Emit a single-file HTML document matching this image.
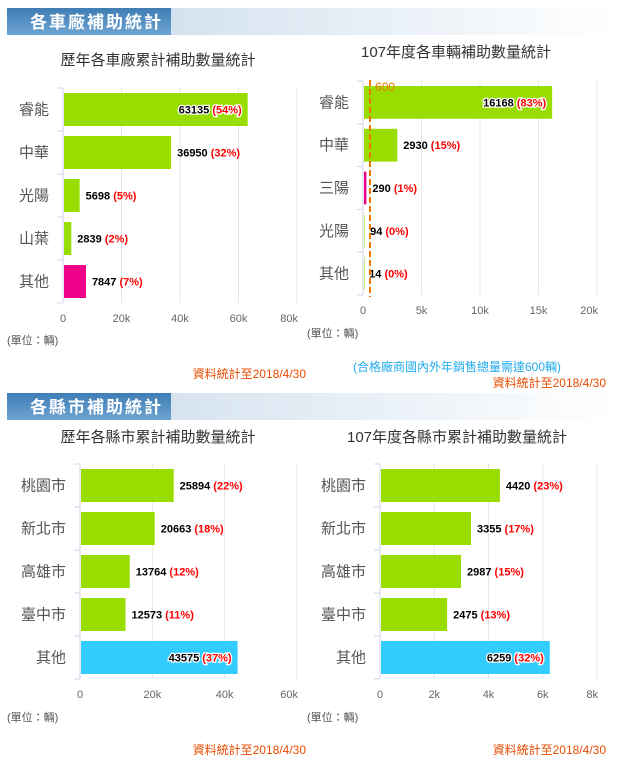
<!DOCTYPE html>
<html><head><meta charset="utf-8">
<style>
body{margin:0;background:#fff;width:618px;height:758px;overflow:hidden;font-family:"Liberation Sans","Noto Sans CJK TC",sans-serif}
svg text{font-family:"Liberation Sans","Noto Sans CJK TC",sans-serif}
</style></head>
<body>
<svg width="618" height="758" viewBox="0 0 618 758">
<defs>
<linearGradient id="hdr" x1="0" y1="0" x2="0" y2="1"><stop offset="0" stop-color="#3f7db5"/><stop offset="1" stop-color="#6da4d2"/></linearGradient>
<linearGradient id="hdrl" x1="0" y1="0" x2="1" y2="0"><stop offset="0" stop-color="#d4e2ef"/><stop offset="1" stop-color="#ffffff"/></linearGradient>
</defs>
<g>
<rect x="171" y="8" width="447" height="27" fill="url(#hdrl)"/>
<rect x="7" y="8" width="164" height="27" fill="url(#hdr)"/>
<text x="30" y="28" font-size="17" fill="#fff" letter-spacing="2" font-weight="bold">各車廠補助統計</text>
</g>
<g>
<rect x="144" y="393" width="474" height="27" fill="url(#hdrl)"/>
<rect x="7" y="393" width="164" height="27" fill="url(#hdr)"/>
<text x="30" y="413" font-size="17" fill="#fff" letter-spacing="2" font-weight="bold">各縣市補助統計</text>
</g>
<g id="charts"></g>
</svg>
<script>
// chart 1: 歷年各車廠累計補助數量統計
const c1Cats=["睿能","中華","光陽","山葉","其他"];
const c1Vals=[63135,36950,5698,2839,7847];
const c1Pct=["54%","32%","5%","2%","7%"];
const c1Ticks=[0,20000,40000,60000,80000];
const c1TickLabels=["0","20k","40k","60k","80k"];
// chart 2: 107年度各車輛補助數量統計
const c2Cats=["睿能","中華","三陽","光陽","其他"];
const c2Vals=[16168,2930,290,94,14];
const c2Pct=["83%","15%","1%","0%","0%"];
const c2Ticks=[0,5000,10000,15000,20000];
const c2TickLabels=["0","5k","10k","15k","20k"];
const c2Threshold=600;
// chart 3: 歷年各縣市累計補助數量統計
const c3Cats=["桃園市","新北市","高雄市","臺中市","其他"];
const c3Vals=[25894,20663,13764,12573,43575];
const c3Pct=["22%","18%","12%","11%","37%"];
const c3Ticks=[0,20000,40000,60000];
const c3TickLabels=["0","20k","40k","60k"];
// chart 4: 107年度各縣市累計補助數量統計
const c4Cats=["桃園市","新北市","高雄市","臺中市","其他"];
const c4Vals=[4420,3355,2987,2475,6259];
const c4Pct=["23%","17%","15%","13%","32%"];
const c4Ticks=[0,2000,4000,6000,8000];
const c4TickLabels=["0","2k","4k","6k","8k"];

const NS="http://www.w3.org/2000/svg";
const root=document.getElementById('charts');
function mk(tag,attrs,parent,txt){const e=document.createElementNS(NS,tag);for(const k in attrs)e.setAttribute(k,attrs[k]);if(txt!==undefined)e.textContent=txt;parent.appendChild(e);return e;}

function chart(cfg){
  const g=mk('g',{},root);
  
  
  const x=v=>cfg.x0+(v/cfg.max)*(cfg.x1-cfg.x0);
  const slot=(cfg.yb-cfg.yt)/cfg.cats.length;
  const t=mk('text',{x:cfg.titleX,y:cfg.titleY,'font-size':15,fill:'#333','text-anchor':'middle'},g,cfg.title);
  
  
  cfg.ticks.forEach((v,i)=>{
    const gl=mk('line',{x1:x(v),x2:x(v),y1:cfg.yt,y2:cfg.yb,stroke:'#e6e6e6'},g);
    
    
    const last=i===cfg.ticks.length-1;
    const tl=mk('text',{x:last?x(v)+1:x(v),y:cfg.tickY,'font-size':11,fill:'#666','text-anchor':last?'end':'middle'},g,cfg.tickLabels[i]);
    
    
  });
  mk('line',{x1:cfg.x0,x2:cfg.x0,y1:cfg.yt,y2:cfg.yb,stroke:'#ccd6eb'},g);
  for(let i=0;i<=cfg.cats.length;i++){mk('line',{x1:cfg.x0-6,x2:cfg.x0,y1:cfg.yt+i*slot,y2:cfg.yt+i*slot,stroke:'#ccd6eb'},g);}
  cfg.cats.forEach((c,i)=>{
    const yt=cfg.yt+i*slot, cy=yt+slot/2;
    const cl=mk('text',{x:cfg.x0-14,y:cy+5,'font-size':15,fill:'#555','text-anchor':'end'},g,c);
    
    
    const v=cfg.vals[i], w=Math.max(x(v)-cfg.x0,0);
    const b=mk('rect',{x:cfg.x0+1,y:yt+5,width:Math.max(w-1,v>0?0.5:0),height:slot-10,fill:cfg.colors[i]},g);
    
    
    const inside=w>cfg.insideMin;
    const lbl=mk('text',{x:inside?x(v)-6:x(v)+6,y:cy+4,'font-size':11,'font-weight':'bold',fill:'#000','text-anchor':inside?'end':'start',stroke:'#fff','stroke-width':inside?2.5:0,'paint-order':'stroke'},g);
    
    
    mk('tspan',{},lbl,v+' ');
    mk('tspan',{fill:'#ff0000'},lbl,'('+cfg.pct[i]+')');
  });
  const u=mk('text',{x:cfg.unitX,y:cfg.unitY,'font-size':11,fill:'#555'},g,'(單位：輛)');
  
  
  const d=mk('text',{x:cfg.dateX,y:cfg.dateY,'font-size':12,fill:'#e84c00','text-anchor':'end'},g,'資料統計至2018/4/30');
  
  
  return {g,x};
}
const G='#99dd00',M='#ee0088',C='#33ccff';
chart({name:'chart-vendor-cumulative',title:'歷年各車廠累計補助數量統計',titleX:158,titleY:65,cats:c1Cats,vals:c1Vals,pct:c1Pct,ticks:c1Ticks,tickLabels:c1TickLabels,max:80000,x0:63,x1:297,yt:88,yb:303,tickY:322,colors:[G,G,G,G,M],insideMin:150,unitX:7,unitY:344,dateX:306,dateY:378});
const c2=chart({name:'chart-vendor-107',title:'107年度各車輛補助數量統計',titleX:456,titleY:57,cats:c2Cats,vals:c2Vals,pct:c2Pct,ticks:c2Ticks,tickLabels:c2TickLabels,max:20000,x0:363,x1:597,yt:81,yb:295,tickY:314,colors:[G,G,M,G,G],insideMin:150,unitX:307,unitY:337,dateX:606,dateY:387});
const pl=mk('line',{x1:c2.x(c2Threshold),x2:c2.x(c2Threshold),y1:80,y2:297,stroke:'#ee7700','stroke-width':2,'stroke-dasharray':'6,3'},c2.g);


const pt=mk('text',{x:c2.x(c2Threshold)+5,y:91,'font-size':12,fill:'#ee7700'},c2.g,String(c2Threshold));


const bn=mk('text',{x:457,y:371,'font-size':12,fill:'#22aaee','text-anchor':'middle'},c2.g,'(合格廠商國內外年銷售總量需達600輛)');


chart({name:'chart-county-cumulative',title:'歷年各縣市累計補助數量統計',titleX:158,titleY:442,cats:c3Cats,vals:c3Vals,pct:c3Pct,ticks:c3Ticks,tickLabels:c3TickLabels,max:60000,x0:80,x1:297,yt:464,yb:679,tickY:698,colors:[G,G,G,G,C],insideMin:150,unitX:7,unitY:721,dateX:306,dateY:754});
chart({name:'chart-county-107',title:'107年度各縣市累計補助數量統計',titleX:457,titleY:442,cats:c4Cats,vals:c4Vals,pct:c4Pct,ticks:c4Ticks,tickLabels:c4TickLabels,max:8000,x0:380,x1:597,yt:464,yb:679,tickY:698,colors:[G,G,G,G,C],insideMin:150,unitX:307,unitY:721,dateX:606,dateY:754});
</script>
</body></html>
